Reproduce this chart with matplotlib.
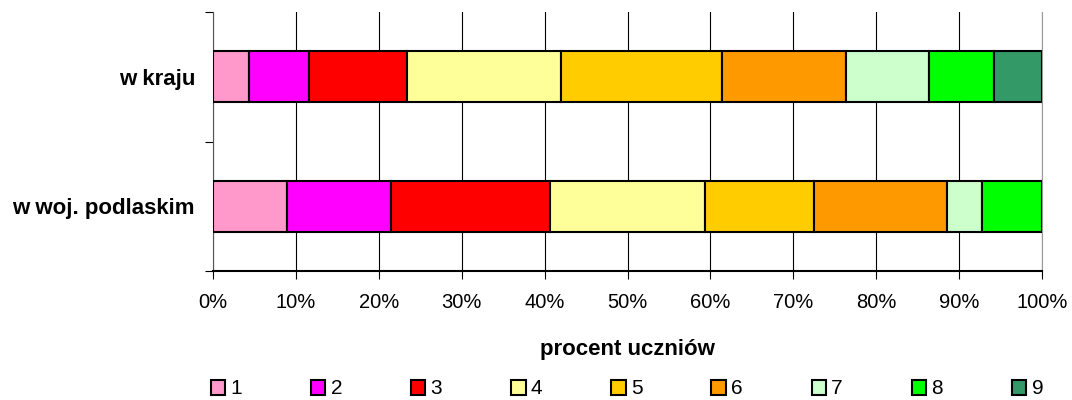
import matplotlib
matplotlib.use("Agg")
import matplotlib.pyplot as plt
import matplotlib.patches as mpatches

plt.rcParams['font.family'] = ['Liberation Sans', 'DejaVu Sans']

# data
groups = ["w kraju", "w woj. podlaskim"]
levels = ["1", "2", "3", "4", "5", "6", "7", "8", "9"]
kraj = [4.3, 7.3, 11.8, 18.6, 19.4, 15.0, 10.0, 7.8, 5.8]
podlaskie = [8.9, 12.6, 19.2, 18.6, 13.2, 16.1, 4.2, 7.2, 0.0]
colors = ["#FF99CC", "#FF00FF", "#FF0000", "#FFFF99", "#FFCC00",
          "#FF9900", "#CCFFCC", "#00FF00", "#339966"]

fig = plt.figure(figsize=(10.72, 4.0), dpi=100)
ax = fig.add_axes([213 / 1072, 1 - 271 / 400, 829 / 1072, 259 / 400])

series = [kraj, podlaskie]
for gi, vals in enumerate(series):
    left = 0
    for i, v in enumerate(vals):
        if v <= 0:
            continue
        ax.barh(gi, v, left=left, height=0.39, color=colors[i],
                edgecolor="black", linewidth=1.5, zorder=3)
        left += v

ax.set_xlim(0, 100)
ax.set_ylim(1.5, -0.5)
ax.set_xticks(range(0, 101, 10))
ax.set_xticklabels([f"{t}%" for t in range(0, 101, 10)], fontsize=14.5)
ax.xaxis.grid(True, color="black", linewidth=0.8, zorder=0)
ax.set_yticks([-0.5, 0.5, 1.5])
ax.set_yticklabels([])
ax.set_yticks([0, 1], minor=True)
ax.set_yticklabels(groups, minor=True, fontsize=16, fontweight="bold")
ax.tick_params(axis="y", which="minor", length=0, pad=13)
ax.tick_params(axis="y", which="major", length=6, direction="out")
ax.tick_params(axis="x", length=6, direction="out", pad=10)
ax.spines["top"].set_visible(False)
ax.spines["right"].set_color("#999999")
ax.spines["left"].set_color("#555555")
ax.spines["bottom"].set_linewidth(1.5)
ax.set_xlabel("procent uczniów", fontsize=16, fontweight="bold", labelpad=19)

handles = [mpatches.Patch(facecolor=c, edgecolor="black", linewidth=1.5, label=l)
           for c, l in zip(colors, levels)]
fig.legend(handles=handles, loc="center", bbox_to_anchor=(627 / 1072, 1 - 389 / 400),
           ncol=9, frameon=False, fontsize=15, handlelength=0.7, handleheight=0.7,
           handletextpad=0.25, columnspacing=3.3)

fig.savefig("out.png", dpi=100)
